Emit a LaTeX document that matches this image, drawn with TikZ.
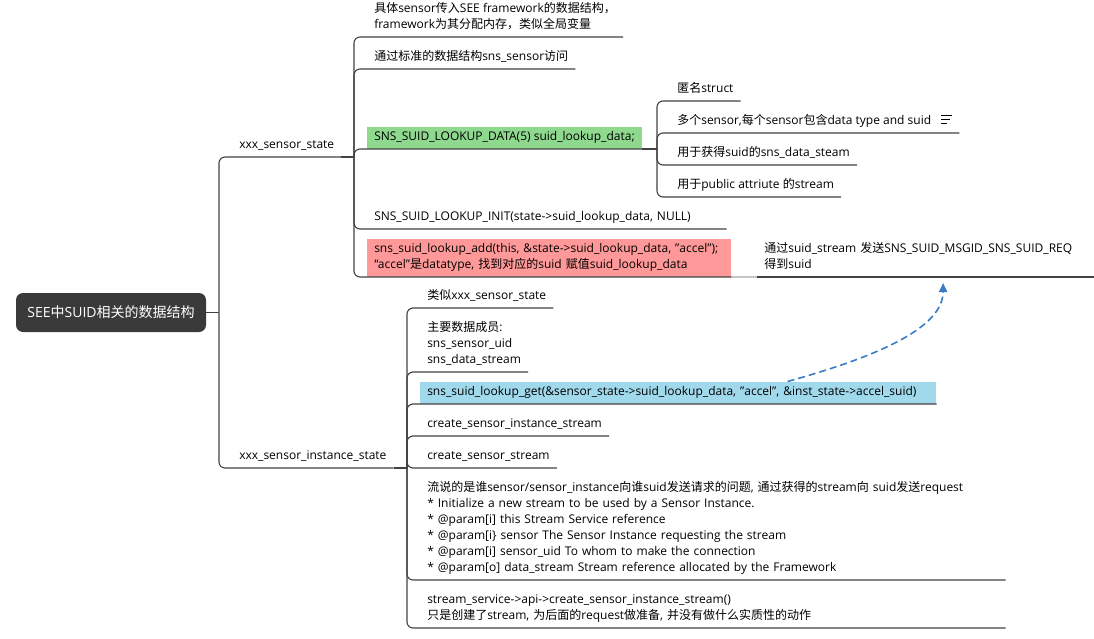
\documentclass[tikz,border=0pt]{standalone}
\usepackage{fontspec}
\setmainfont{Open Sans}
\newfontfamily\latinfont{Open Sans}
\newfontfamily\cjkfont{Noto Sans CJK SC}
\usetikzlibrary{arrows.meta}

% switch to the CJK font for Chinese characters
\XeTeXinterchartokenstate=1
\newXeTeXintercharclass\cjkclass
\makeatletter
\count@="3000
\loop\XeTeXcharclass\count@=\cjkclass\advance\count@ by 1 \ifnum\count@<"A000 \repeat
\count@="FF00
\loop\XeTeXcharclass\count@=\cjkclass\advance\count@ by 1 \ifnum\count@<"FFF0 \repeat
\makeatother
\XeTeXinterchartoks 0 \cjkclass = {\cjkfont}
\XeTeXinterchartoks 4095 \cjkclass = {\cjkfont}
\XeTeXinterchartoks \cjkclass 0 = {\latinfont}
\XeTeXinterchartoks \cjkclass 4095 = {\latinfont}

\newdimen\px \px=0.75pt
\newcommand\noteicon{\raisebox{1\px}{\vbox{\hrule width 11\px height 1.1\px\vskip 2.6\px\hrule width 9\px height 1.1\px\vskip 2.6\px\hrule width 6\px height 1.1\px}}}

\definecolor{linegray}{RGB}{66,66,66}
\definecolor{rootfill}{RGB}{58,58,58}
\definecolor{greenfill}{RGB}{143,217,143}
\definecolor{redfill}{RGB}{255,153,153}
\definecolor{bluefill}{RGB}{161,217,236}
\definecolor{arrowblue}{RGB}{56,124,198}

\tikzset{
  topic/.style={anchor=south west, align=left, inner xsep=7\px, inner ysep=4.5\px, text height=9.5\px, text depth=3.5\px, font=\fontsize{9}{12}\selectfont},
  rootbox/.style={fill=rootfill, text=white, rounded corners=7\px, minimum width=190\px, minimum height=39\px, inner sep=0pt, font=\fontsize{10.5}{12}\selectfont},
  branch/.style={draw=linegray, line width=1.1\px, rounded corners=6\px},
}

\begin{document}
\begin{tikzpicture}[x=0.75pt,y=-0.75pt]
  \useasboundingbox (0,0) rectangle (1094,638);

  \node[rootbox] (root) at (111,312.5) {SEE中SUID相关的数据结构};

  \node[topic] (sensorState) at (232,157) {xxx\_sensor\_state};
  \node[topic] (instanceState) at (232,468) {xxx\_sensor\_instance\_state};

  % xxx_sensor_state
  \node[topic] (seeStruct) at (367,37) {具体sensor传入SEE framework的数据结构，\\framework为其分配内存，类似全局变量};
  \node[topic] (snsAccess) at (367,69) {通过标准的数据结构sns\_sensor访问};
  \node[topic,fill=greenfill] (lookupData) at (367,149) {SNS\_SUID\_LOOKUP\_DATA(5) suid\_lookup\_data;};
  \node[topic,text width=345\px] (lookupInit) at (367,229) {SNS\_SUID\_LOOKUP\_INIT(state->suid\_lookup\_data, NULL)};
  \node[topic,fill=redfill,text width=350\px,text depth=19.5\px] (lookupAdd) at (367,277) {sns\_suid\_lookup\_add(this, \&state->suid\_lookup\_data, "accel");\\“accel”是datatype, 找到对应的suid 赋值suid\_lookup\_data};

  % SNS_SUID_LOOKUP_DATA
  \node[topic] (anonStruct) at (670,101) {匿名struct};
  \node[topic] (multiSensor) at (670,133) {多个sensor,每个sensor包含data type and suid\hspace{10\px}\noteicon};
  \node[topic] (suidStream) at (670,165) {用于获得suid的sns\_data\_steam};
  \node[topic] (publicStream) at (670,197) {用于public attriute 的stream};

  \node[topic,text width=323\px,text depth=19.5\px] (suidReq) at (757,277) {通过suid\_stream 发送SNS\_SUID\_MSGID\_SNS\_SUID\_REQ\\得到suid};

  % xxx_sensor_instance_state
  \node[topic] (likeState) at (420,308) {类似xxx\_sensor\_state};
  \node[topic] (members) at (420,372) {主要数据成员:\\sns\_sensor\_uid\\sns\_data\_stream};
  \node[topic,fill=bluefill,text width=502\px] (lookupGet) at (420,404) {sns\_suid\_lookup\_get(\&sensor\_state->suid\_lookup\_data, "accel", \&inst\_state->accel\_suid)};
  \node[topic] (createInstance) at (420,436) {create\_sensor\_instance\_stream};
  \node[topic] (createSensor) at (420,468) {create\_sensor\_stream};
  \node[topic,text width=571\px,text depth=83.5\px] (streamNote) at (420,580) {流说的是谁sensor/sensor\_instance向谁suid发送请求的问题, 通过获得的stream向 suid发送request\\{}* Initialize a new stream to be used by a Sensor Instance.\\{}* @param[i] this Stream Service reference\\{}* @param[i\} sensor The Sensor Instance requesting the stream\\{}* @param[i] sensor\_uid To whom to make the connection\\{}* @param[o] data\_stream Stream reference allocated by the Framework};
  \node[topic,text width=571\px,text depth=19.5\px] (streamApi) at (420,628) {stream\_service->api->create\_sensor\_instance\_stream()\\只是创建了stream, 为后面的request做准备, 并没有做什么实质性的动作};

  \coordinate (rootBar) at (219,312.5);
  \coordinate (stateBar) at (354,157);
  \coordinate (dataBar) at (657,149);
  \coordinate (instanceBar) at (407,468);

  \draw[branch] (root.east) -- (rootBar);
  \foreach \n in {sensorState,instanceState}
    \draw[branch] (rootBar) |- (\n.south east);
  \draw[branch] (sensorState.south east) -- (stateBar);
  \foreach \n in {seeStruct,snsAccess,lookupData,lookupInit,lookupAdd}
    \draw[branch] (stateBar) |- (\n.south east);
  \draw[branch] (lookupData.south east) -- (dataBar);
  \foreach \n in {anonStruct,multiSensor,suidStream,publicStream}
    \draw[branch] (dataBar) |- (\n.south east);
  \draw[branch,draw=gray!45] (lookupAdd.south east) -- (suidReq.south west);
  \draw[branch] (suidReq.south west) -- (suidReq.south east);
  \draw[branch] (instanceState.south east) -- (instanceBar);
  \foreach \n in {likeState,members,lookupGet,createInstance,createSensor,streamNote,streamApi}
    \draw[branch] (instanceBar) |- (\n.south east);

  \draw[arrowblue,line width=1.2pt,dash pattern=on 5.25pt off 3pt,-{Triangle[length=6.75pt,width=6pt]}]
    ([xshift=82pt]lookupGet.north) .. controls +(90,-25) and +(0,45) .. ([xshift=13pt,yshift=-4.5pt]suidReq.south);
\end{tikzpicture}
\end{document}
